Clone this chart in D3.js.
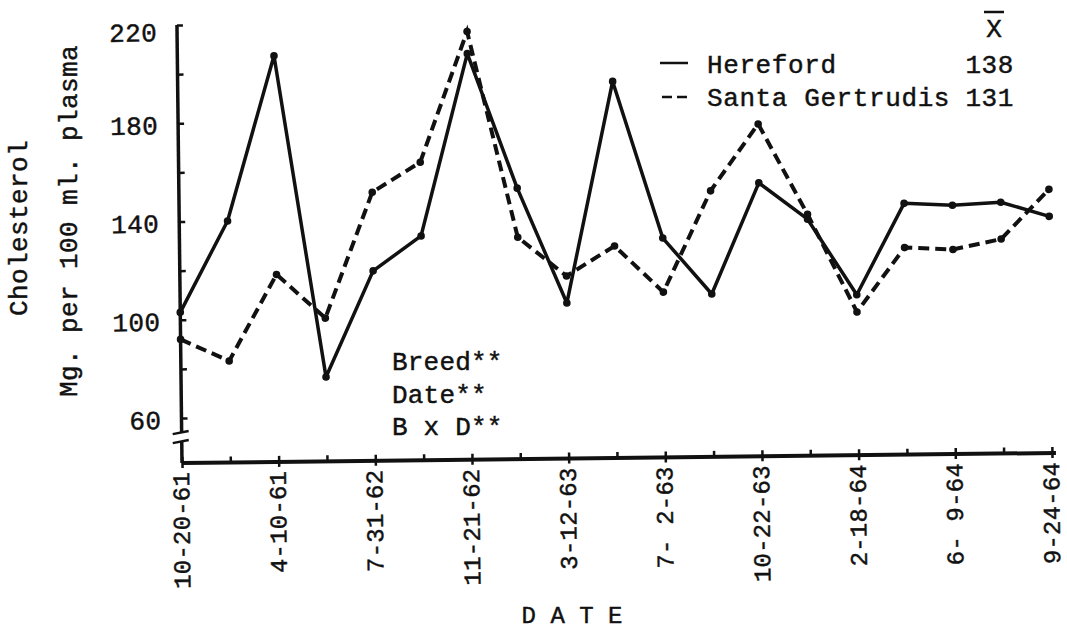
<!DOCTYPE html>
<html>
<head>
<meta charset="utf-8">
<script src="https://cdn.jsdelivr.net/npm/d3@7"></script>
<style>
  html, body { margin: 0; padding: 0; background: #fff; }
  svg { display: block; }
  text { font-family: "Liberation Mono", "DejaVu Sans Mono", monospace; fill: #111; stroke: #111; stroke-width: 0.45px; }
</style>
</head>
<body>
<svg id="chart" width="1067" height="632"></svg>
<script>
// ---- data ----
const dates = ["10-20-61","","4-10-61","","7-31-62","","11-21-62","","3-12-63","",
               "7- 2-63","","10-22-63","","2-18-64","","6- 9-64","","9-24-64"];
const hereford       = [103,140,207,76,119,133,207,152,105,195,131,108,153,138,107,144,143,144,138];
const santaGertrudis = [92,83,118,100,151,163,216,132,116,128,109,150,177,140,100,126,125,129,149];
const yTickValues = [60,80,100,120,140,160,180,200,220];
const yTickLabels = [60,100,140,180,220];
const seriesNames = ["Hereford","Santa Gertrudis"];
const seriesMeans = [138,131];
const effects = ["Breed**","Date**","B x D**"];

const svg = d3.select("#chart");
const W = 1067, H = 632;
svg.append("rect").attr("width", W).attr("height", H).attr("fill", "#fff");

const x0 = 182, yBase = 463;
const x = d3.scaleLinear().domain([0, dates.length - 1]).range([182, 1052]);
const y = d3.scaleLinear().domain([60, 220]).range([418, 25]);

// scanned page is slightly rotated
const plot = svg.append("g").attr("transform", `rotate(-0.66,${x0},${yBase})`);

// y axis with inward ticks
const yAxis = d3.axisLeft(y).tickValues(yTickValues).tickSize(-6).tickPadding(20)
  .tickFormat(d => yTickLabels.includes(d) ? d : "");
const gy = plot.append("g").attr("transform", `translate(${x0},0)`).call(yAxis);
gy.select(".domain").remove();
gy.selectAll(".tick line").attr("stroke", "#111").attr("stroke-width", 2.5);
gy.selectAll(".tick text").attr("font-size", 26).attr("letter-spacing", 0.4)
  .attr("dy", d => d === 220 ? "0.6em" : "0.4em");

// y axis line with a break
plot.append("line").attr("x1", x0).attr("x2", x0).attr("y1", y(220)).attr("y2", 432)
  .attr("stroke", "#111").attr("stroke-width", 3.5);
plot.append("line").attr("x1", x0).attr("x2", x0).attr("y1", 441).attr("y2", yBase)
  .attr("stroke", "#111").attr("stroke-width", 3.5);
plot.append("line").attr("x1", x0 - 9).attr("x2", x0 + 7).attr("y1", 434).attr("y2", 431)
  .attr("stroke", "#111").attr("stroke-width", 2.5);
plot.append("line").attr("x1", x0 - 9).attr("x2", x0 + 7).attr("y1", 443).attr("y2", 440)
  .attr("stroke", "#111").attr("stroke-width", 2.5);

// x axis
const xAxis = d3.axisBottom(x).tickValues(d3.range(dates.length)).tickSize(-6).tickPadding(0)
  .tickFormat(i => dates[i]);
const gx = plot.append("g").attr("transform", `translate(0,${yBase})`).call(xAxis);
gx.select(".domain").remove();
gx.selectAll(".tick line").attr("stroke", "#111").attr("stroke-width", 2.5);
gx.selectAll(".tick").filter(i => dates[i] !== "").append("line")
  .attr("y1", 0).attr("y2", 5).attr("stroke", "#111").attr("stroke-width", 2.5);
gx.selectAll(".tick text")
  .attr("font-size", 24).attr("letter-spacing", 0.2)
  .attr("text-anchor", "end").attr("dy", null).attr("y", null)
  .attr("transform", "translate(0,9) rotate(-90)")
  .attr("dominant-baseline", "central")
  .style("white-space", "pre");
plot.append("line").attr("x1", x0).attr("x2", 1056).attr("y1", yBase).attr("y2", yBase)
  .attr("stroke", "#111").attr("stroke-width", 4);

// series
const line = d3.line().x((d, i) => x(i)).y(d => y(d));
plot.append("path").datum(hereford).attr("d", line)
  .attr("fill", "none").attr("stroke", "#111").attr("stroke-width", 3.5).attr("stroke-linejoin", "round");
plot.append("path").datum(santaGertrudis).attr("d", line)
  .attr("fill", "none").attr("stroke", "#111").attr("stroke-width", 4)
  .attr("stroke-dasharray", "11,6");
[hereford, santaGertrudis].forEach(s => {
  plot.append("g").selectAll("circle").data(s).join("circle")
    .attr("cx", (d, i) => x(i)).attr("cy", d => y(d)).attr("r", 3.8).attr("fill", "#111");
});

// y axis title
svg.append("text").attr("transform", "translate(20,228) rotate(-90)")
  .attr("text-anchor", "middle").attr("dominant-baseline", "central")
  .attr("font-size", 26).attr("letter-spacing", 0.4).text("Cholesterol");
svg.append("text").attr("transform", "translate(70,221) rotate(-90)")
  .attr("text-anchor", "middle").attr("dominant-baseline", "central")
  .attr("font-size", 26).attr("letter-spacing", 0.4).text("Mg. per 100 ml. plasma");

// x axis title
svg.append("text").attr("x", 572).attr("y", 623).attr("text-anchor", "middle")
  .attr("font-size", 24).style("white-space", "pre").text("D A T E");

// significance notes
svg.append("g").selectAll("text").data(effects).join("text")
  .attr("x", 392).attr("y", (d, i) => 370 + i * 32.5)
  .attr("font-size", 26).attr("letter-spacing", 0.2).text(d => d);

// legend
const legY = [73, 106];
svg.append("text").attr("x", 994).attr("y", 37).attr("text-anchor", "middle")
  .attr("font-size", 26).text("X");
svg.append("line").attr("x1", 984).attr("x2", 1004).attr("y1", 12).attr("y2", 12)
  .attr("stroke", "#111").attr("stroke-width", 2.5);
svg.append("line").attr("x1", 660).attr("x2", 688).attr("y1", 63).attr("y2", 63)
  .attr("stroke", "#111").attr("stroke-width", 2.5);
svg.append("line").attr("x1", 662).attr("x2", 688).attr("y1", 97).attr("y2", 97)
  .attr("stroke", "#111").attr("stroke-width", 2.5).attr("stroke-dasharray", "10,5");
svg.append("g").selectAll("text").data(seriesNames).join("text")
  .attr("x", 707).attr("y", (d, i) => legY[i])
  .attr("font-size", 26).attr("letter-spacing", 0.6).text(d => d);
svg.append("g").selectAll("text").data(seriesMeans).join("text")
  .attr("x", 1014).attr("y", (d, i) => legY[i]).attr("text-anchor", "end")
  .attr("font-size", 26).attr("letter-spacing", 0.6).text(d => d);
</script>
</body>
</html>
